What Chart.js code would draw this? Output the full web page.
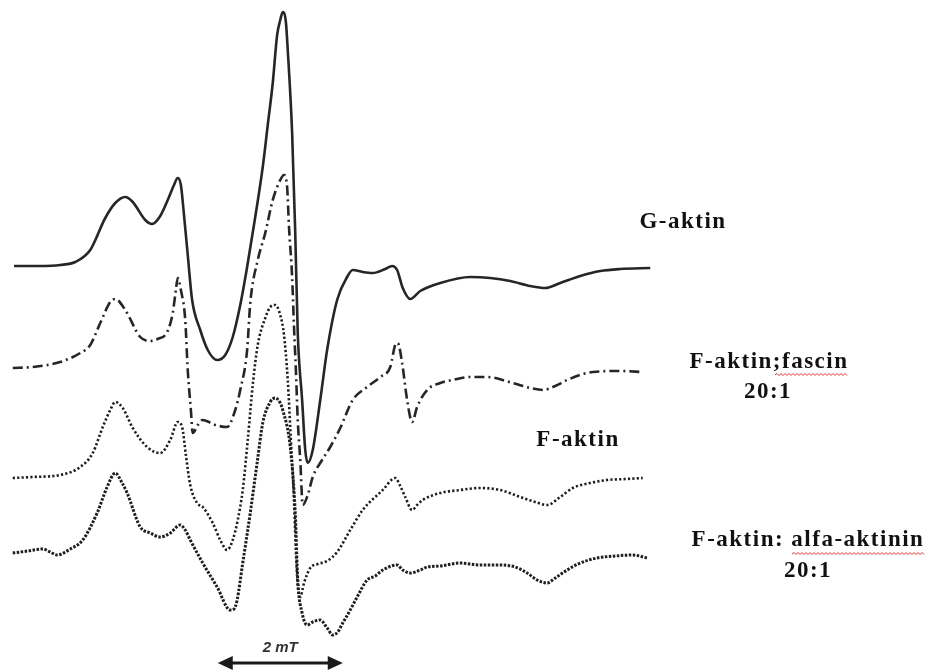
<!DOCTYPE html>
<html>
<head>
<meta charset="utf-8">
<title>EPR spektrumok</title>
<script src="https://cdn.jsdelivr.net/npm/chart.js@4/dist/chart.umd.min.js"></script>
<style>
  html, body { margin: 0; padding: 0; background: #fff; }
  #spektrum { display: block; }
</style>
</head>
<body>
<canvas id="spektrum" width="928" height="672"></canvas>
<script>
// Mágneses tér (mT) és jelintenzitás (tetszőleges egység) a görbékhez
const gField = [0, 0.42, 0.74, 0.98, 1.22, 1.46, 1.62, 1.78, 1.90, 2.10, 2.21, 2.34, 2.46, 2.56, 2.62, 2.67, 2.72, 2.78, 2.85, 2.98, 3.10, 3.25, 3.38, 3.50, 3.62, 3.73, 3.86, 3.98, 4.06, 4.14, 4.21, 4.26, 4.30, 4.35, 4.38, 4.45, 4.50, 4.54, 4.61, 4.66, 4.70, 4.78, 4.90, 5.01, 5.17, 5.33, 5.42, 5.58, 5.74, 5.94, 6.05, 6.13, 6.22, 6.34, 6.50, 6.82, 7.30, 7.62, 7.94, 8.26, 8.50, 8.74, 9.06, 9.38, 9.70, 10.18];
const gSignal = [0, 0, 1, 4, 16, 48, 63, 69, 64, 46, 42, 50, 66, 81, 88, 81, 51, 11, -34, -64, -84, -94, -89, -71, -39, -1, 49, 99, 141, 183, 231, 246, 254, 244, 216, 133, 33, -67, -134, -184, -197, -184, -134, -84, -34, -11, -4, -6, -7, -3, 0, -4, -22, -33, -25, -17, -11, -12, -15, -20, -22, -17, -10, -5, -3, -2];

const fascinField = [-0.02, 0.30, 0.74, 1.06, 1.22, 1.38, 1.54, 1.62, 1.78, 2.02, 2.18, 2.30, 2.45, 2.54, 2.59, 2.62, 2.67, 2.74, 2.78, 2.83, 2.86, 2.94, 3.02, 3.22, 3.41, 3.54, 3.62, 3.73, 3.78, 3.90, 4.02, 4.14, 4.26, 4.32, 4.37, 4.40, 4.45, 4.48, 4.51, 4.54, 4.58, 4.62, 4.70, 4.78, 4.93, 5.06, 5.22, 5.42, 5.65, 5.86, 6.02, 6.10, 6.14, 6.21, 6.29, 6.37, 6.45, 6.61, 6.82, 7.02, 7.30, 7.57, 7.98, 8.26, 8.46, 8.66, 8.85, 9.26, 9.70, 10.06];
const fascinSignal = [0, 1, 6, 15, 23, 45, 66, 69, 58, 31, 27, 29, 36, 55, 78, 90, 78, 48, -2, -42, -65, -57, -52, -57, -59, -42, -22, 18, 65, 108, 135, 168, 188, 193, 181, 141, 91, 41, -2, -52, -92, -137, -127, -109, -92, -79, -60, -32, -19, -9, 1, 23, 25, 5, -32, -54, -39, -22, -15, -12, -9, -9, -15, -20, -22, -18, -12, -4, -3, -4];

const fAktinField = [-0.02, 0.30, 0.74, 1.06, 1.26, 1.42, 1.54, 1.62, 1.74, 1.90, 2.13, 2.34, 2.50, 2.62, 2.69, 2.75, 2.82, 2.93, 3.02, 3.18, 3.30, 3.41, 3.50, 3.58, 3.66, 3.74, 3.82, 3.90, 4.02, 4.10, 4.18, 4.26, 4.32, 4.38, 4.43, 4.48, 4.51, 4.54, 4.58, 4.64, 4.74, 4.86, 5.01, 5.17, 5.38, 5.58, 5.90, 6.10, 6.18, 6.26, 6.37, 6.45, 6.54, 6.82, 7.14, 7.46, 7.78, 8.10, 8.34, 8.53, 8.74, 8.94, 9.22, 9.49, 9.78, 10.06];
const fAktinSignal = [0, 1, 3, 11, 25, 51, 68, 76, 70, 50, 31, 25, 38, 56, 51, 23, -7, -25, -29, -45, -62, -72, -62, -42, -12, 38, 93, 133, 160, 171, 173, 163, 143, 98, 38, -22, -72, -107, -119, -105, -90, -86, -83, -74, -52, -32, -12, 0, -8, -19, -32, -27, -22, -15, -12, -10, -12, -19, -24, -27, -19, -10, -5, -2, -1, 0];

const alfaField = [-0.02, 0.22, 0.46, 0.58, 0.69, 0.90, 1.10, 1.33, 1.49, 1.62, 1.73, 1.81, 2.02, 2.18, 2.34, 2.50, 2.66, 2.74, 2.82, 3.02, 3.25, 3.46, 3.52, 3.57, 3.66, 3.78, 3.89, 3.98, 4.10, 4.18, 4.26, 4.30, 4.42, 4.50, 4.54, 4.61, 4.69, 4.78, 4.90, 5.01, 5.10, 5.18, 5.26, 5.38, 5.49, 5.65, 5.78, 5.90, 6.13, 6.22, 6.34, 6.50, 6.61, 6.82, 7.14, 7.46, 7.78, 8.02, 8.21, 8.37, 8.53, 8.66, 8.85, 9.06, 9.33, 9.62, 9.90, 10.13];
const alfaSignal = [0, 2, 4, 1, -2, 4, 13, 40, 66, 80, 70, 60, 26, 20, 16, 20, 28, 23, 13, -10, -34, -57, -56, -47, -10, 40, 90, 130, 151, 155, 150, 143, 106, 40, -27, -60, -72, -69, -67, -75, -82, -79, -70, -57, -44, -27, -23, -17, -12, -17, -20, -17, -14, -13, -10, -12, -12, -14, -20, -27, -30, -25, -17, -10, -5, -3, -2, -5];

// Görbék függőleges eltolása (a.u.)
const offsets = [406, 304, 194, 119];
const labels = ["G-aktin", "F-aktin;fascin 20:1", "F-aktin", "F-aktin: alfa-aktinin 20:1"];

// Skálavonal: 2 mT
const scaleBarStart = 3.26;
const scaleBarLength = 2;

function pontok(field, signal, offset) {
  return field.map((b, i) => ({ x: b, y: signal[i] + offset }));
}

const vonalSzin = "#262626";

// Feliratok és a skálavonal rajzolása
const feliratok = {
  id: "feliratok",
  afterDraw(chart) {
    const ctx = chart.ctx;
    const x = chart.scales.x;
    const y = chart.scales.y;
    ctx.save();
    ctx.fillStyle = "#111";
    ctx.textAlign = "center";
    ctx.textBaseline = "middle";
    ctx.font = "bold 23px 'Liberation Serif'";
    ctx.letterSpacing = "1.5px";
    ctx.fillText("G-aktin", 683, 222);
    ctx.fillText("F-aktin;fascin", 769, 362);
    ctx.fillText("20:1", 768, 392);
    ctx.fillText("F-aktin", 578, 440);
    ctx.fillText("F-aktin: alfa-aktinin", 808, 540);
    ctx.fillText("20:1", 808, 571);

    // helyesírás-ellenőrző hullámos aláhúzás
    function hullam(x0, x1, yy) {
      ctx.beginPath();
      ctx.strokeStyle = "#e03030";
      ctx.lineWidth = 1;
      let fel = true;
      ctx.moveTo(x0, yy);
      for (let xx = x0 + 2; xx <= x1; xx += 2) {
        ctx.lineTo(xx, fel ? yy - 1.5 : yy + 0.5);
        fel = !fel;
      }
      ctx.stroke();
    }
    hullam(775, 848, 375);
    hullam(792, 925, 554);

    // 2 mT skálavonal, kétirányú nyíllal
    const xa = x.getPixelForValue(scaleBarStart);
    const xb = x.getPixelForValue(scaleBarStart + scaleBarLength);
    const yb = y.getPixelForValue(9);
    ctx.strokeStyle = "#1a1a1a";
    ctx.fillStyle = "#1a1a1a";
    ctx.lineWidth = 3;
    ctx.beginPath();
    ctx.moveTo(xa + 10, yb);
    ctx.lineTo(xb - 10, yb);
    ctx.stroke();
    ctx.beginPath();
    ctx.moveTo(xa, yb);
    ctx.lineTo(xa + 15, yb - 7);
    ctx.lineTo(xa + 15, yb + 7);
    ctx.closePath();
    ctx.fill();
    ctx.beginPath();
    ctx.moveTo(xb, yb);
    ctx.lineTo(xb - 15, yb - 7);
    ctx.lineTo(xb - 15, yb + 7);
    ctx.closePath();
    ctx.fill();
    ctx.letterSpacing = "0px";
    ctx.font = "italic bold 15px 'Liberation Sans'";
    ctx.fillStyle = "#333";
    ctx.fillText("2 mT", (xa + xb) / 2, y.getPixelForValue(24));
    ctx.restore();
  }
};

new Chart(document.getElementById("spektrum"), {
  type: "line",
  data: {
    datasets: [
      {
        label: labels[0],
        data: pontok(gField, gSignal, offsets[0]),
        borderColor: vonalSzin,
        borderWidth: 2.6,
      },
      {
        label: labels[1],
        data: pontok(fascinField, fascinSignal, offsets[1]),
        borderColor: vonalSzin,
        borderWidth: 2.6,
        borderDash: [10, 4, 2, 4],
      },
      {
        label: labels[2],
        data: pontok(fAktinField, fAktinSignal, offsets[2]),
        borderColor: "#1e1e1e",
        borderWidth: 2.6,
        borderDash: [2.2, 2.2],
      },
      {
        label: labels[3],
        data: pontok(alfaField, alfaSignal, offsets[3]),
        borderColor: "#1e1e1e",
        borderWidth: 3,
        borderDash: [2.5, 1.5],
      },
    ],
  },
  options: {
    responsive: false,
    animation: false,
    layout: { padding: 0 },
    elements: {
      point: { radius: 0 },
      line: { cubicInterpolationMode: "monotone", fill: false },
    },
    plugins: {
      legend: { display: false },
      tooltip: { enabled: false },
    },
    scales: {
      x: { type: "linear", display: false, min: -0.224, max: 14.624 },
      y: { type: "linear", display: false, min: 0, max: 672 },
    },
  },
  plugins: [feliratok],
});
</script>
</body>
</html>
